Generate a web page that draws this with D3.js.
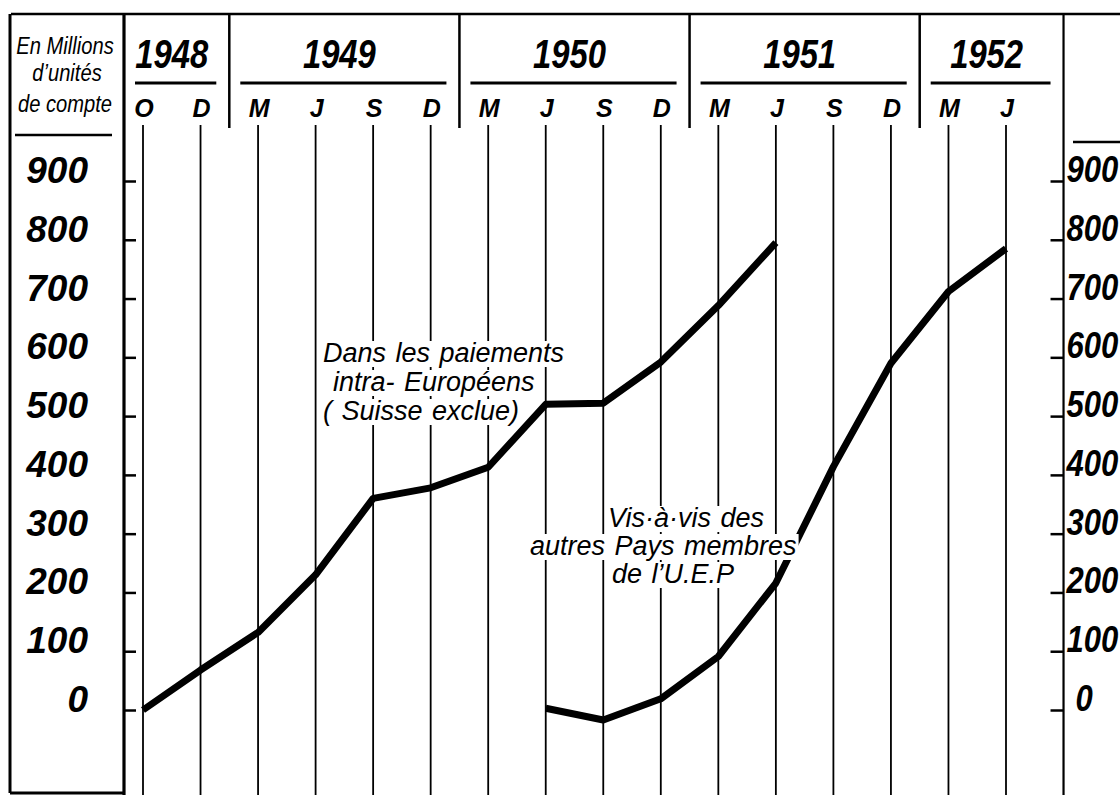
<!DOCTYPE html>
<html><head><meta charset="utf-8">
<script src="https://cdn.jsdelivr.net/npm/d3@7"></script>
<style>
html,body{margin:0;padding:0;background:#fff;}
svg{display:block;}
text{font-family:"Liberation Sans",Arial,sans-serif;fill:#000;}
</style></head>
<body>
<svg id="chart" width="1120" height="795"></svg>
<script>
// ---------- data ----------
const monthLabels = ["O","D","M","J","S","D","M","J","S","D","M","J","S","D","M","J"];
const yearLabels = ["1948","1949","1950","1951","1952"];
const monthsPerYear = [2,4,4,4,2];
const yTicks = [0,100,200,300,400,500,600,700,800,900];
// Dans les paiements intra-Européens (Suisse exclue)
const intraEuropean = [0,68,132,230,360,378,413,520,522,592,688,795,null,null,null,null];
// Vis-à-vis des autres Pays membres de l'U.E.P
const vsOtherMembers = [null,null,null,null,null,null,null,3,-17,19,91,216,414,590,712,785];
const unitLines = ["En Millions","d’unités","de compte"];
const intraLabel = ["Dans les paiements","intra- Européens","( Suisse exclue)"];
const otherLabel = ["Vis·à·vis des","autres Pays membres","de l’U.E.P"];

// ---------- layout ----------
const W = 1120, H = 795;
const svg = d3.select("#chart");
const x = d3.scalePoint().domain(d3.range(monthLabels.length)).range([143, 1006]);
const step = x.step();
const y = d3.scaleLinear().domain([0, 900]).range([710, 181]);
const leftAxisX = x(0) - 19;
const rightAxisX = x(monthLabels.length - 1) + step;
const topY = 14;

// year blocks
let idx = 0;
const years = yearLabels.map((lab, i) => {
  const first = idx, last = idx + monthsPerYear[i] - 1;
  idx += monthsPerYear[i];
  const left = i === 0 ? leftAxisX : (x(first) + x(first - 1)) / 2;
  const right = i === yearLabels.length - 1 ? rightAxisX : (x(last) + x(last + 1)) / 2;
  return {lab, first, last, left, right};
});

// ---------- frame ----------
const frame = svg.append("g").attr("stroke", "#000").attr("fill", "none");
frame.append("line").attr("x1", 11).attr("x2", W).attr("y1", topY).attr("y2", topY).attr("stroke-width", 2.5);
frame.append("line").attr("x1", 10).attr("x2", 10).attr("y1", topY).attr("y2", 793).attr("stroke-width", 3);
frame.append("line").attr("x1", 10).attr("x2", leftAxisX).attr("y1", 793).attr("y2", 793).attr("stroke-width", 3);
frame.append("line").attr("x1", leftAxisX).attr("x2", leftAxisX).attr("y1", topY).attr("y2", H).attr("stroke-width", 3.2);
frame.append("line").attr("x1", rightAxisX).attr("x2", rightAxisX).attr("y1", topY).attr("y2", H).attr("stroke-width", 2.2);
// short rules under unit label and at right top
frame.append("line").attr("x1", 15).attr("x2", 112).attr("y1", 135).attr("y2", 135).attr("stroke-width", 2.5);
frame.append("line").attr("x1", 1073).attr("x2", W).attr("y1", 142).attr("y2", 142).attr("stroke-width", 2.5);

// year separators (header only)
frame.selectAll("line.sep").data(years.slice(0, -1)).join("line").attr("class", "sep")
  .attr("x1", d => d.right).attr("x2", d => d.right).attr("y1", topY).attr("y2", 128).attr("stroke-width", 2.5);
// year underlines
frame.selectAll("line.ul").data(years).join("line").attr("class", "ul")
  .attr("x1", d => d.left + 11).attr("x2", d => d.right - 13).attr("y1", 83).attr("y2", 83).attr("stroke-width", 3);

// month grid lines
const grid = svg.append("g").attr("stroke", "#000").attr("stroke-width", 1.8);
grid.selectAll("line").data(d3.range(monthLabels.length)).join("line")
  .attr("x1", d => x(d)).attr("x2", d => x(d)).attr("y1", 125).attr("y2", H);

// ---------- header text ----------
const hdr = svg.append("g");
hdr.selectAll("text.year").data(years).join("text").attr("class", "year")
  .attr("transform", d => `translate(${(d.left + d.right) / 2 - 5},68) scale(0.8,1)`)
  .attr("text-anchor", "middle").attr("font-size", 41).attr("font-weight", "bold").attr("font-style", "italic")
  .text(d => d.lab);
hdr.selectAll("text.month").data(monthLabels).join("text").attr("class", "month")
  .attr("x", (d, i) => x(i) + 1).attr("y", 117).attr("text-anchor", "middle")
  .attr("font-size", 25).attr("font-weight", "bold").attr("font-style", "italic").text(d => d);
const unitY = [54, 81, 112];
hdr.selectAll("text.unit").data(unitLines).join("text").attr("class", "unit")
  .attr("transform", (d, i) => `translate(${i === 1 ? 67 : 65},${unitY[i]}) scale(0.84,1)`)
  .attr("text-anchor", "middle").attr("font-size", 24).attr("font-style", "italic").text(d => d);

// ---------- axes ----------
const leftAxis = svg.append("g").attr("transform", `translate(${leftAxisX},0)`)
  .call(d3.axisRight(y).tickValues(yTicks).tickSize(12).tickFormat(""));
leftAxis.select(".domain").remove();
leftAxis.selectAll("line").attr("stroke", "#000").attr("stroke-width", 2.5);
svg.append("g").selectAll("text").data(yTicks).join("text")
  .attr("x", 88).attr("y", d => y(d) + 2).attr("text-anchor", "end")
  .attr("font-size", 37).attr("font-weight", "bold").attr("font-style", "italic").text(d => d);

const rightAxis = svg.append("g").attr("transform", `translate(${rightAxisX},0)`)
  .call(d3.axisLeft(y).tickValues(yTicks).tickSize(13).tickFormat(""));
rightAxis.select(".domain").remove();
rightAxis.selectAll("line").attr("stroke", "#000").attr("stroke-width", 2.5);
svg.append("g").selectAll("text").data(yTicks).join("text")
  .attr("transform", d => `translate(${rightAxisX + (d === 0 ? 12 : 3)},${y(d) + 1}) scale(0.84,1)`)
  .attr("text-anchor", "start")
  .attr("font-size", 37).attr("font-weight", "bold").attr("font-style", "italic").text(d => d);

// ---------- annotations with white knock-out ----------
function annotate(lines, x0s, baselines) {
  const g = svg.append("g");
  lines.forEach((t, i) => {
    const tx = g.append("text").attr("x", x0s[i]).attr("y", baselines[i])
      .attr("font-size", 27).attr("font-style", "italic").attr("word-spacing", 2).text(t);
    const b = tx.node().getBBox();
    g.insert("rect", "text").attr("x", b.x - 2).attr("y", b.y + 3).attr("width", b.width + 4).attr("height", b.height - 4)
      .attr("fill", "#fff");
  });
}

// ---------- series ----------
const line = d3.line().defined(d => d != null).x((d, i) => x(i)).y(d => y(d)).curve(d3.curveLinear);
const series = svg.append("g").attr("fill", "none").attr("stroke", "#000").attr("stroke-width", 7)
  .attr("stroke-linejoin", "round").attr("stroke-linecap", "butt");
series.append("path").attr("d", line(intraEuropean));
series.append("path").attr("d", line(vsOtherMembers));

annotate(intraLabel, [323, 333, 323], [362, 391, 420]);
annotate(otherLabel, [608, 530, 612], [527, 555, 583]);
</script>
</body></html>
